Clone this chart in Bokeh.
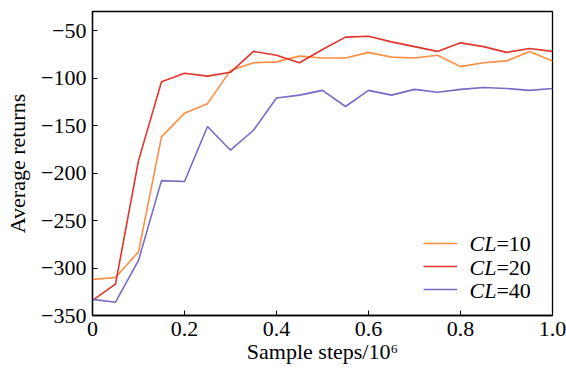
from bokeh.plotting import figure
from bokeh.models import (FixedTicker, CustomJSTickFormatter, Legend, LegendItem, Label)
from bokeh.embed import file_html
from bokeh.resources import INLINE

steps = [0.0, 0.05, 0.10, 0.15, 0.20, 0.25, 0.30, 0.35, 0.40, 0.45, 0.50,
         0.55, 0.60, 0.65, 0.70, 0.75, 0.80, 0.85, 0.90, 0.95, 1.00]
cl10 = [-312, -310, -283, -162, -137, -127, -92, -84, -83, -77, -79,
        -79, -73, -78, -79, -76, -88, -84, -82, -72, -82]
cl20 = [-334, -317, -187, -104, -95, -98, -94, -72, -76, -84, -70,
        -57, -56, -62, -67, -72, -63, -67, -73, -69, -72]
cl40 = [-333, -336, -292, -208, -209, -151, -176, -155, -121, -118, -113,
        -130, -113, -118, -112, -115, -112, -110, -111, -113, -111]
series_names = ["=10", "=20", "=40"]
x_ticks = [0, 0.2, 0.4, 0.6, 0.8, 1.0]
y_ticks = [-350, -300, -250, -200, -150, -100, -50]

FONT = "Liberation Serif"
colors = ["#FF8E42", "#E0342C", "#7B69C8"]

p = figure(frame_width=460, frame_height=304, min_border_left=92, min_border_right=14,
           min_border_top=11, min_border_bottom=57, x_range=(0, 1.0), y_range=(-350, -30),
           output_backend="svg", toolbar_location=None, background_fill_color="white")

p.xgrid.visible = False
p.ygrid.visible = False
p.outline_line_color = "black"
p.outline_line_width = 1.3

for ax in (p.xaxis[0], p.yaxis[0]):
    ax.major_tick_in = 5
    ax.major_tick_out = 0
    ax.minor_tick_line_color = None
    ax.axis_line_color = "black"
    ax.axis_line_width = 1.3
    ax.major_tick_line_color = "black"
    ax.major_label_text_font = FONT
    ax.major_label_text_font_size = "22px"
    ax.major_label_text_color = "black"
    ax.axis_label_text_font = FONT
    ax.axis_label_text_font_size = "22px"
    ax.axis_label_text_font_style = "normal"
    ax.axis_label_text_color = "black"

p.xaxis.ticker = FixedTicker(ticks=x_ticks)
p.xaxis.major_label_overrides = {0: "0", 1: "1.0"}
p.xaxis.major_label_standoff = 6
p.xaxis.axis_label = "Sample steps/10\u2076"
p.xaxis.axis_label_standoff = 0

p.yaxis.ticker = FixedTicker(ticks=y_ticks)
p.yaxis.formatter = CustomJSTickFormatter(code="return tick.toString().replace('-', '\\u2212');")
p.yaxis.major_label_standoff = 6
p.yaxis.axis_label = "Average returns"
p.yaxis.axis_label_standoff = 8

r10 = p.line(steps, cl10, line_color=colors[0], line_width=1.6)
r20 = p.line(steps, cl20, line_color=colors[1], line_width=1.6)
r40 = p.line(steps, cl40, line_color=colors[2], line_width=1.6)

legend = Legend(items=[LegendItem(label=series_names[0], renderers=[r10]),
                       LegendItem(label=series_names[1], renderers=[r20]),
                       LegendItem(label=series_names[2], renderers=[r40])],
                location=(331, 16), margin=0, padding=0, spacing=3,
                glyph_width=34, glyph_height=20, label_height=20, label_standoff=0,
                border_line_color=None, background_fill_alpha=0,
                label_text_font=FONT, label_text_font_size="1px", label_text_alpha=0)
p.add_layout(legend, "center")

row_y = [-274.5, -299.2, -323.7]
for name, yy in zip(series_names, row_y):
    p.add_layout(Label(x=0.878, y=yy, text="CL", text_align="right", text_baseline="middle",
                       text_font=FONT, text_font_size="22px", text_font_style="italic",
                       text_color="black"))
    p.add_layout(Label(x=0.878, y=yy, text=name, text_align="left", text_baseline="middle",
                       text_font=FONT, text_font_size="22px", text_font_style="normal",
                       text_color="black"))

open("out.html", "w").write(file_html(p, INLINE))
